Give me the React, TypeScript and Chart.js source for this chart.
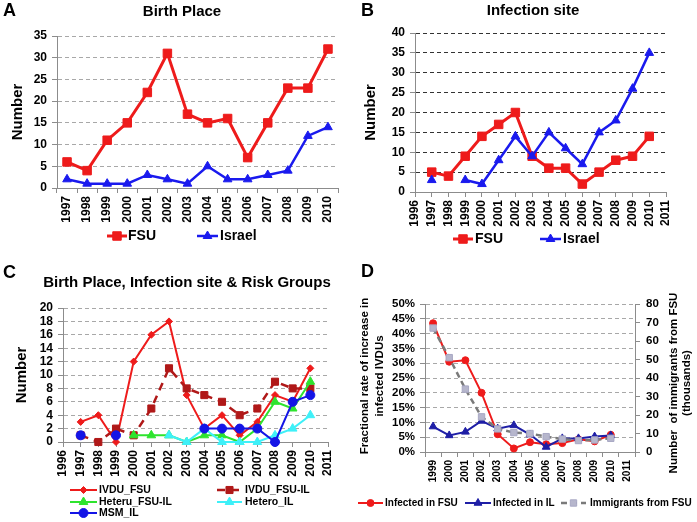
import React, { useEffect, useRef } from 'react';
import { Chart, registerables } from 'chart.js';

Chart.register(...registerables);

const FONT = "'Liberation Sans', Arial, Helvetica, sans-serif";
Chart.defaults.font.family = FONT;
Chart.defaults.color = '#000';

// ---------- Panel A: Birth Place ----------
const yearsA = ['1997', '1998', '1999', '2000', '2001', '2002', '2003', '2004', '2005', '2006', '2007', '2008', '2009', '2010'];
const birthFSU = [6, 4, 11, 15, 22, 31, 17, 15, 16, 7, 15, 23, 23, 32];
const birthIsrael = [2, 1, 1, 1, 3, 2, 1, 5, 2, 2, 3, 4, 12, 14];

// ---------- Panel B: Infection site ----------
const yearsB = [1997, 1998, 1999, 2000, 2001, 2002, 2003, 2004, 2005, 2006, 2007, 2008, 2009, 2010];
const siteFSU = [5, 4, 9, 14, 17, 20, 9, 6, 6, 2, 5, 8, 9, 14];
const siteIsrael = [3, null, 3, 2, 8, 14, 9, 15, 11, 7, 15, 18, 26, 35];

// ---------- Panel C: Birth Place, Infection site & Risk Groups ----------
const yearsC = [1997, 1998, 1999, 2000, 2001, 2002, 2003, 2004, 2005, 2006, 2007, 2008, 2009, 2010];
const ivduFSU = [3, 4, 0, 12, 16, 18, 7, 2, 4, 1, 3, 7, 6, 11];
const ivduFSUIL = [1, 0, 2, 1, 5, 11, 8, 7, 6, 4, 5, 9, 8, 8];
const heteruFSUIL = [null, null, null, 1, 1, 1, 0, 1, 1, 0, 2, 6, 5, 9];
const heteroIL = [null, null, null, null, null, 1, 0, 2, 0, 0, 0, 1, 2, 4];
const msmIL = [1, null, 1, null, null, null, null, 2, 2, 2, 2, 0, 6, 7];

// ---------- Panel D ----------
const yearsD = ['1999', '2000', '2001', '2002', '2003', '2004', '2005', '2006', '2007', '2008', '2009', '2010', '2011'];
const infectedFSU = [43.5, 30.5, 31, 20, 6, 1.2, 3.3, 2.6, 3, 4.3, 3.6, 5.8, null];
const infectedIL = [8.6, 5.6, 6.8, 10.5, 7.9, 9, 5.9, 1.7, 4.6, 4.6, 5.2, 5.6, null];
const immigrantsFSU = [67, 51, 34, 19, 12.5, 10.5, 10, 8.3, 7, 6.2, 6.5, 7.4, null];

const AXIS = '#8c8c8c';

type Txt = { text: string; x: number; y: number; size: number; rot?: number; align?: CanvasTextAlign };
type Leg = { ds: number; x1: number; x2: number; y: number; tx: number; size: number };

function drawMarker(ctx: CanvasRenderingContext2D, style: string, x: number, y: number, r: number, fill: string, stroke: string, bw: number) {
  ctx.beginPath();
  if (style === 'rect') {
    const s = r * Math.SQRT1_2;
    ctx.rect(x - s, y - s, 2 * s, 2 * s);
  } else if (style === 'triangle') {
    for (let k = 0; k < 3; k++) {
      const a = (k * 2 * Math.PI) / 3;
      const px = x + Math.sin(a) * r;
      const py = y - Math.cos(a) * r;
      if (k === 0) ctx.moveTo(px, py);
      else ctx.lineTo(px, py);
    }
    ctx.closePath();
  } else if (style === 'rectRot') {
    ctx.moveTo(x - r, y);
    ctx.lineTo(x, y - r);
    ctx.lineTo(x + r, y);
    ctx.lineTo(x, y + r);
    ctx.closePath();
  } else {
    ctx.arc(x, y, r, 0, Math.PI * 2);
  }
  ctx.fillStyle = fill;
  ctx.fill();
  if (bw) {
    ctx.lineWidth = bw;
    ctx.strokeStyle = stroke;
    ctx.stroke();
  }
}

function decor(texts: Txt[], legend: Leg[]) {
  return {
    id: 'decor',
    afterDraw(chart: any) {
      const ctx = chart.ctx as CanvasRenderingContext2D;
      ctx.save();
      for (const t of texts) {
        ctx.save();
        ctx.fillStyle = '#000';
        ctx.textBaseline = 'middle';
        ctx.font = `bold ${t.size}px ${FONT}`;
        ctx.textAlign = t.align || 'center';
        ctx.translate(t.x, t.y);
        if (t.rot) ctx.rotate(t.rot);
        ctx.fillText(t.text, 0, 0);
        ctx.restore();
      }
      for (const l of legend) {
        const d = chart.data.datasets[l.ds];
        ctx.save();
        ctx.strokeStyle = d.borderColor;
        ctx.lineWidth = d.borderWidth;
        ctx.setLineDash(d.borderDash || []);
        ctx.beginPath();
        ctx.moveTo(l.x1, l.y);
        ctx.lineTo(l.x2, l.y);
        ctx.stroke();
        ctx.setLineDash([]);
        drawMarker(ctx, d.pointStyle, (l.x1 + l.x2) / 2, l.y, d.pointRadius, d.pointBackgroundColor, d.pointBorderColor, d.pointBorderWidth);
        ctx.fillStyle = '#000';
        ctx.font = `bold ${l.size}px ${FONT}`;
        ctx.textAlign = 'left';
        ctx.textBaseline = 'middle';
        ctx.fillText(d.label, l.tx, l.y);
        ctx.restore();
      }
      ctx.restore();
    },
  };
}

function series(label: string, data: any[], color: string, width: number, style: string, radius: number, extra: any = {}) {
  return {
    label,
    data,
    borderColor: color,
    backgroundColor: color,
    borderWidth: width,
    pointStyle: style,
    pointRadius: radius,
    pointHoverRadius: radius,
    pointBackgroundColor: color,
    pointBorderColor: color,
    pointBorderWidth: 1,
    tension: 0,
    spanGaps: false,
    clip: false,
    ...extra,
  };
}

function withOrder(list: any[]) {
  return list.map((d, i) => ({ ...d, order: list.length - i }));
}

const pts = (xs: number[], ys: (number | null)[]) => xs.map((x, i) => ({ x, y: ys[i] }));

function yAxis(o: { min: number; max: number; step: number; width: number; grid: string; size: number; title?: string; titlePad?: number; cb?: (v: any) => string; pad?: number }) {
  return {
    type: 'linear',
    position: 'left',
    min: o.min,
    max: o.max,
    grid: { color: o.grid, tickColor: AXIS, tickLength: 5, drawTicks: true },
    border: { color: AXIS, dash: [4, 3] },
    ticks: { stepSize: o.step, autoSkip: false, padding: o.pad ?? 5, color: '#000', font: { size: o.size, weight: 'bold' }, callback: o.cb || ((v: any) => String(v)) },
    title: o.title
      ? { display: true, text: o.title, color: '#000', font: { size: 15, weight: 'bold' }, padding: { top: o.titlePad ?? 6, bottom: 0 } }
      : { display: false },
    afterFit: (s: any) => {
      s.width = o.width;
    },
  };
}

function xCategory(h: number, size: number) {
  return {
    type: 'category',
    offset: true,
    grid: { drawOnChartArea: false, color: AXIS, tickLength: 5, offset: true },
    border: { color: AXIS },
    ticks: { autoSkip: false, minRotation: 90, maxRotation: 90, padding: 3, color: '#000', font: { size, weight: 'bold' } },
    afterFit: (s: any) => {
      s.height = h;
    },
  };
}

function xLinear(h: number) {
  return {
    type: 'linear',
    min: 1996,
    max: 2011,
    grid: { drawOnChartArea: false, color: AXIS, tickLength: 5 },
    border: { color: AXIS },
    ticks: { stepSize: 1, autoSkip: false, minRotation: 90, maxRotation: 90, padding: 3, color: '#000', font: { size: 12, weight: 'bold' }, callback: (v: any) => String(v) },
    afterFit: (s: any) => {
      s.height = h;
    },
  };
}

const baseOpts = (padding: any) => ({
  animation: false,
  responsive: false,
  maintainAspectRatio: false,
  layout: { padding },
  plugins: { legend: { display: false }, tooltip: { enabled: false }, title: { display: false } },
  events: [],
});

const configA: any = {
  type: 'line',
  data: {
    labels: yearsA,
    datasets: withOrder([
      series('FSU', birthFSU, '#ee1b1b', 3, 'rect', 6),
      series('Israel', birthIsrael, '#1a1aee', 2.5, 'triangle', 5),
    ]),
  },
  options: {
    ...baseOpts({ left: 0, top: 36, right: 10, bottom: 33 }),
    scales: {
      x: xCategory(40, 12),
      y: yAxis({ min: 0, max: 35, step: 5, width: 57, grid: '#a8a8a8', size: 12, title: 'Number', titlePad: 9 }),
    },
  },
  plugins: [
    decor(
      [
        { text: 'A', x: 3, y: 11, size: 18, align: 'left' },
        { text: 'Birth Place', x: 182, y: 12, size: 15 },
      ],
      [
        { ds: 0, x1: 107, x2: 127, y: 236, tx: 128, size: 14 },
        { ds: 1, x1: 197, x2: 218, y: 236, tx: 220, size: 14 },
      ]
    ),
  ],
};

const configB: any = {
  type: 'line',
  data: {
    datasets: withOrder([
      series('FSU', pts(yearsB, siteFSU), '#ee1b1b', 3, 'rect', 6),
      series('Israel', pts(yearsB, siteIsrael), '#1a1aee', 2.5, 'triangle', 5),
    ]),
  },
  options: {
    ...baseOpts({ left: 0, top: 33, right: 31, bottom: 29 }),
    scales: {
      x: xLinear(40),
      y: yAxis({ min: 0, max: 40, step: 5, width: 67, grid: '#333333', size: 12, title: 'Number', titlePad: 14 }),
    },
  },
  plugins: [
    decor(
      [
        { text: 'B', x: 13, y: 11, size: 18, align: 'left' },
        { text: 'Infection site', x: 185, y: 11, size: 15 },
      ],
      [
        { ds: 0, x1: 105, x2: 125, y: 239, tx: 127, size: 14 },
        { ds: 1, x1: 192, x2: 213, y: 239, tx: 215, size: 14 },
      ]
    ),
  ],
};

const configC: any = {
  type: 'line',
  data: {
    datasets: withOrder([
      series('IVDU_FSU', pts(yearsC, ivduFSU), '#ee1b1b', 2, 'rectRot', 3.5),
      series('IVDU_FSU-IL', pts(yearsC, ivduFSUIL), '#b01818', 2.5, 'rect', 5, { borderDash: [8, 6] }),
      series('Heteru_FSU-IL', pts(yearsC, heteruFSUIL), '#2ee42e', 2, 'triangle', 5),
      series('Hetero_IL', pts(yearsC, heteroIL), '#3ef0f8', 2, 'triangle', 5),
      series('MSM_IL', pts(yearsC, msmIL), '#1414e6', 2, 'circle', 4.5),
    ]),
  },
  options: {
    ...baseOpts({ left: 0, top: 47, right: 20, bottom: 40 }),
    scales: {
      x: xLinear(40),
      y: yAxis({ min: 0, max: 20, step: 2, width: 63, grid: '#a8a8a8', size: 12, title: 'Number', titlePad: 13 }),
    },
  },
  plugins: [
    decor(
      [
        { text: 'C', x: 3, y: 12, size: 18, align: 'left' },
        { text: 'Birth Place, Infection site & Risk Groups', x: 187, y: 22, size: 15 },
      ],
      [
        { ds: 0, x1: 70, x2: 97, y: 229, tx: 99, size: 10.5 },
        { ds: 1, x1: 217, x2: 242, y: 229, tx: 245, size: 10.5 },
        { ds: 2, x1: 70, x2: 97, y: 241, tx: 99, size: 10.5 },
        { ds: 3, x1: 217, x2: 242, y: 241, tx: 245, size: 10.5 },
        { ds: 4, x1: 70, x2: 97, y: 252, tx: 99, size: 10.5 },
      ]
    ),
  ],
};

const configD: any = {
  type: 'line',
  data: {
    labels: yearsD,
    datasets: withOrder([
      series('Infected in FSU', infectedFSU, '#ee1b1b', 2, 'circle', 3.5, { yAxisID: 'y' }),
      series('Infected in IL', infectedIL, '#1f1fa6', 2, 'triangle', 4.5, { yAxisID: 'y' }),
      series('Immigrants from FSU', immigrantsFSU, '#7a7a7a', 2.5, 'rect', 4.5, {
        yAxisID: 'y2',
        borderDash: [6, 4],
        pointBackgroundColor: '#b6b6cc',
        pointBorderColor: '#a8a8c4',
      }),
    ]),
  },
  options: {
    ...baseOpts({ left: 0, top: 43, right: 0, bottom: 30 }),
    scales: {
      x: xCategory(40, 10),
      y: yAxis({ min: 0, max: 50, step: 5, width: 77, grid: '#a8a8a8', size: 11.5, cb: (v: any) => v + '%' }),
      y2: {
        type: 'linear',
        position: 'right',
        min: 0,
        max: 80,
        grid: { drawOnChartArea: false, color: AXIS, tickLength: 5 },
        border: { color: AXIS },
        ticks: { stepSize: 10, autoSkip: false, padding: 6, color: '#000', font: { size: 11.5, weight: 'bold' }, callback: (v: any) => String(v) },
        afterFit: (s: any) => {
          s.width = 62;
        },
      },
    },
  },
  plugins: [
    decor(
      [
        { text: 'D', x: 13, y: 11, size: 18, align: 'left' },
        { text: 'Fractional rate of increase in', x: 17, y: 115, size: 11.5, rot: -Math.PI / 2 },
        { text: 'infected IVDUs', x: 32, y: 115, size: 11.5, rot: -Math.PI / 2 },
        { text: 'Number  of immigrants from FSU', x: 326, y: 122, size: 11.5, rot: -Math.PI / 2 },
        { text: '(thousands)', x: 339, y: 122, size: 11.5, rot: -Math.PI / 2 },
      ],
      [
        { ds: 0, x1: 10, x2: 35, y: 242, tx: 37, size: 10 },
        { ds: 1, x1: 117, x2: 143, y: 242, tx: 145, size: 10 },
        { ds: 2, x1: 213, x2: 238, y: 242, tx: 242, size: 10 },
      ]
    ),
  ],
};

function ChartBox({ left, top, width, height, config }: { left: number; top: number; width: number; height: number; config: any }) {
  const ref = useRef<HTMLCanvasElement>(null);
  useEffect(() => {
    const chart = new Chart(ref.current as HTMLCanvasElement, config);
    return () => chart.destroy();
  }, [config]);
  return (
    <canvas
      ref={ref}
      width={width}
      height={height}
      style={{ position: 'absolute', left, top, width, height, display: 'block' }}
    />
  );
}

export default function App() {
  return (
    <div style={{ position: 'fixed', left: 0, top: 0, width: 697, height: 522, background: '#fff', overflow: 'hidden' }}>
      <ChartBox left={0} top={0} width={348} height={261} config={configA} />
      <ChartBox left={348} top={0} width={349} height={261} config={configB} />
      <ChartBox left={0} top={261} width={348} height={261} config={configC} />
      <ChartBox left={348} top={261} width={349} height={261} config={configD} />
    </div>
  );
}
